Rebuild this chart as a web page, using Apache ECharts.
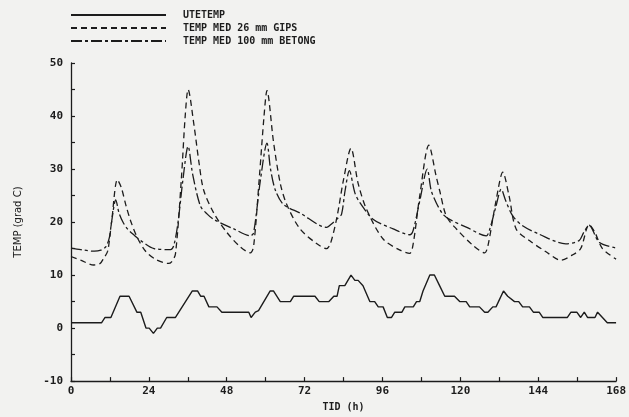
<!DOCTYPE html>
<html>
<head>
<meta charset="utf-8">
<script src="https://cdn.jsdelivr.net/npm/echarts@6/dist/echarts.min.js"></script>
<style>
  html, body { margin: 0; padding: 0; background: #f2f2f0; overflow: hidden; }
  #chart { width: 629px; height: 417px; }
</style>
</head>
<body>
<div id="chart"></div>
<script>
// Series names (legend text)
const seriesNames = ['UTETEMP', 'TEMP MED 26 mm GIPS', 'TEMP MED 100 mm BETONG'];

// Outdoor temperature, [hour, degC]
const utetemp = [
  [0,1],[9.4,1],[10.5,2],[12.3,2],[15.1,6],[17.9,6],[20.3,3],[21.5,3],[23.1,0],[24.1,0],
  [25.4,-1],[26.6,0],[27.6,0],[29.5,2],[32.2,2],[37.4,7],[39,7],[40,6],[41,6],[42.5,4],
  [45,4],[46.5,3],[54.8,3],[55.5,2],[56.8,3],[57.8,3.3],[61.4,7],[62.4,7],[64.5,5],[67.6,5],
  [68.6,6],[75.2,6],[76.5,5],[79.5,5],[81,6],[82,6],[82.7,8],[84.4,8],[86.3,10],[87.5,9],
  [88.5,9],[90,8],[92.1,5],[93.6,5],[94.7,4],[96.2,4],[97.5,2],[98.8,2],[99.8,3],[102,3],
  [102.9,4],[105.5,4],[106.5,5],[107.5,5],[108.5,7],[110.6,10],[112,10],[113.6,8],[115.2,6],[118.2,6],
  [119.8,5],[121.8,5],[122.9,4],[125.9,4],[127.5,3],[128.5,3],[130,4],[131,4],[133.3,7],[134.6,6],
  [136.7,5],[138,5],[139.2,4],[141.3,4],[142.5,3],[144.3,3],[145.4,2],[153,2],[154.1,3],[155.9,3],
  [157.1,2],[158.2,3],[159.2,2],[161.5,2],[162.3,3],[163.8,2],[165.3,1],[168,1]
];

// Indoor temperature, 26 mm gypsum, [hour, degC]
const gips = [
  [0,13.5],[3,12.8],[7,11.9],[9,12.2],[10,13.1],[11.3,14.5],[12.5,20],[14.3,28],[15.5,26.5],[17,23],
  [18.5,20],[20.5,17],[23,14.5],[26,13],[30,12.2],[31,12.5],[32.2,14],[34,28],[35.2,40],[36.1,45],
  [37.9,38.3],[39.5,31],[40.9,26],[44,21.7],[48.1,18],[52.2,15.3],[55.3,14.2],[56.3,15.5],[58,28],[59.5,40],
  [60.4,44.8],[62.4,35.2],[64.5,27.3],[66.5,23.3],[70.6,18.7],[75.8,15.9],[78.8,15],[80,16],[82,21],[84,28],
  [86.3,33.9],[88.5,27.3],[91.1,22.4],[96.2,16.8],[101.4,14.7],[104.4,14.1],[105.5,16],[107.5,25],[110.3,34.5],[112.6,28.5],
  [113.6,26],[115.7,21.1],[118.8,18.7],[123.9,15.6],[127.5,14.2],[128.5,15.5],[131,24],[133.1,29.4],[135,25],[137.2,18.7],
  [141.3,16.5],[146.4,14.4],[151,12.8],[154.6,13.8],[157.1,15],[159.7,19.5],[161.5,18],[163.8,15],[168,13]
];

// Indoor temperature, 100 mm concrete, [hour, degC]
const betong = [
  [0,15.1],[3,14.8],[7.2,14.5],[9.2,14.7],[10.7,15.3],[11.8,17],[12.5,20],[13.8,24.2],[14.8,21.7],[16,20],
  [17.4,18.7],[19.5,17.5],[21.5,16.5],[25.6,15],[30.7,14.8],[31.7,15.6],[33,20],[34.5,28],[36.1,34.3],[37.5,29],
  [39.9,23],[42,21.5],[44,20.5],[50.2,18.7],[55.3,17.4],[56.3,18],[58.4,28],[60.4,34.9],[61.5,30],[63,26],
  [65.5,23.3],[70.6,21.7],[78.8,19],[80,19.5],[82.4,20.8],[83.4,21.5],[84.5,26],[85.8,29.7],[87.5,25.5],[89.1,23.6],
  [93.2,20.5],[99.3,18.7],[104.4,17.6],[105.5,18.5],[107.5,24],[109.8,30],[111,26],[112.6,23.6],[114.6,21.5],[116.7,20.5],
  [122,19],[128,17.4],[129,18.5],[131,23],[132.6,26.2],[134,24],[136.2,21.1],[139.2,19.3],[144.3,17.7],[152.5,15.9],
  [156.6,16.5],[158,18],[159.7,19.4],[162.8,16.2],[168,15.1]
];

const ink = '#1c1c1c';
const mono = '"DejaVu Sans Mono", "Liberation Mono", monospace';

const chart = echarts.init(document.getElementById('chart'), null, { renderer: 'canvas', width: 629, height: 417 });

chart.setOption({
  backgroundColor: '#f2f2f0',
  animation: false,
  legend: {
    orient: 'vertical',
    left: 65,
    top: 5,
    itemWidth: 95,
    itemHeight: 8,
    itemGap: 3,
    itemStyle: { opacity: 0 },
    textStyle: {
      fontFamily: mono,
      fontSize: 10,
      fontWeight: 'bold',
      color: ink,
      padding: [0, 0, 0, 12]
    },
    data: seriesNames
  },
  grid: { left: 71, right: 12, top: 63, bottom: 28 },
  xAxis: {
    type: 'value',
    min: 0,
    max: 168,
    interval: 12,
    name: 'TID (h)',
    nameLocation: 'middle',
    nameGap: 17,
    nameTextStyle: { fontFamily: mono, fontSize: 10, fontWeight: 'bold', color: ink },
    axisLine: { show: true, onZero: false, lineStyle: { color: ink, width: 1.3 } },
    axisTick: { show: true, inside: true, length: 4, lineStyle: { color: ink, width: 1.2 } },
    axisLabel: {
      fontFamily: mono, fontSize: 11, fontWeight: 'bold', color: ink, margin: 5,
      formatter: v => (v % 24 === 0 ? String(v) : '')
    },
    splitLine: { show: false }
  },
  yAxis: {
    type: 'value',
    min: -10,
    max: 50,
    interval: 5,
    name: 'TEMP (grad C)',
    nameLocation: 'middle',
    nameGap: 48,
    nameRotate: 90,
    nameTextStyle: { fontFamily: '"DejaVu Sans", sans-serif', fontSize: 10, color: ink },
    axisLine: { show: true, onZero: false, lineStyle: { color: ink, width: 1.3 } },
    axisTick: { show: true, inside: true, length: 4, lineStyle: { color: ink, width: 1.2 } },
    axisLabel: {
      fontFamily: mono, fontSize: 11, fontWeight: 'bold', color: ink, margin: 8,
      formatter: v => (v % 10 === 0 ? String(v) : '')
    },
    splitLine: { show: false }
  },
  series: [
    {
      name: seriesNames[0], type: 'line', data: utetemp, symbol: 'none',
      lineStyle: { color: ink, width: 1.4, type: 'solid' }, itemStyle: { color: ink }
    },
    {
      name: seriesNames[1], type: 'line', data: gips, symbol: 'none', smooth: 0.3,
      lineStyle: { color: ink, width: 1.3, type: [6, 4] }, itemStyle: { color: ink }
    },
    {
      name: seriesNames[2], type: 'line', data: betong, symbol: 'none', smooth: 0.3,
      lineStyle: { color: ink, width: 1.3, type: [11, 3, 3, 3] }, itemStyle: { color: ink }
    }
  ]
});
</script>
</body>
</html>
